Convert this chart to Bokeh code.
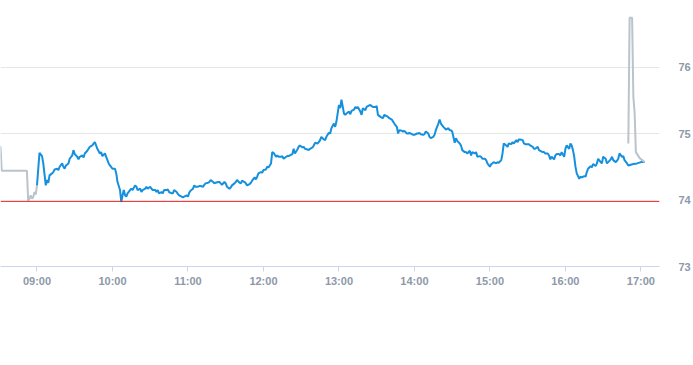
from bokeh.plotting import figure
from bokeh.models import Range1d, FixedTicker, Span
from bokeh.embed import file_html
from bokeh.resources import INLINE

# ---- data ----
pre_time = ["08:20", "08:31", "08:32", "08:52", "08:53", "08:54", "08:55", "08:56",
            "08:57", "08:58", "08:59", "09:00"]
pre_price = [74.80, 74.80, 74.44, 74.44, 73.99, 74.02, 74.07, 74.02,
             74.04, 74.12, 74.08, 74.22]

main_time = [
    "09:00", "09:02", "09:04", "09:05", "09:07", "09:08", "09:09", "09:10", "09:12", "09:13",
    "09:14", "09:16", "09:17", "09:18", "09:20", "09:21", "09:22", "09:23", "09:25", "09:26",
    "09:28", "09:29", "09:30", "09:32", "09:33", "09:34", "09:36", "09:37", "09:38", "09:40",
    "09:41", "09:42", "09:44", "09:45", "09:46", "09:47", "09:48", "09:50", "09:51", "09:52",
    "09:54", "09:55", "09:57", "09:58", "10:00", "10:02", "10:03", "10:04", "10:06", "10:07",
    "10:08", "10:09", "10:10", "10:11", "10:12", "10:14", "10:15", "10:16", "10:18", "10:19",
    "10:20", "10:22", "10:23", "10:24", "10:26", "10:27", "10:28", "10:30", "10:31", "10:32",
    "10:34", "10:35", "10:36", "10:37", "10:39", "10:40", "10:41", "10:43", "10:44", "10:45",
    "10:47", "10:48", "10:49", "10:51", "10:52", "10:53", "10:55", "10:56", "10:57", "10:59",
    "11:00", "11:01", "11:02", "11:04", "11:05", "11:06", "11:08", "11:09", "11:10", "11:12",
    "11:13", "11:14", "11:16", "11:17", "11:18", "11:20", "11:21", "11:22", "11:24", "11:25",
    "11:26", "11:27", "11:29", "11:30", "11:31", "11:33", "11:34", "11:35", "11:37", "11:38",
    "11:39", "11:41", "11:42", "11:43", "11:45", "11:46", "11:47", "11:49", "11:50", "11:51",
    "11:53", "11:54", "11:55", "11:56", "11:58", "11:59", "12:00", "12:02", "12:03", "12:04",
    "12:06", "12:07", "12:08", "12:10", "12:11", "12:12", "12:14", "12:15", "12:16", "12:18",
    "12:19", "12:20", "12:21", "12:23", "12:24", "12:25", "12:27", "12:28", "12:29", "12:31",
    "12:32", "12:33", "12:35", "12:36", "12:37", "12:39", "12:40", "12:41", "12:43", "12:44",
    "12:45", "12:46", "12:48", "12:49", "12:50", "12:52", "12:53", "12:54", "12:56", "12:57",
    "12:58", "13:00", "13:01", "13:02", "13:04", "13:05", "13:06", "13:08", "13:09", "13:10",
    "13:12", "13:13", "13:14", "13:15", "13:17", "13:18", "13:19", "13:21", "13:22", "13:23",
    "13:25", "13:26", "13:27", "13:29", "13:30", "13:31", "13:33", "13:34", "13:35", "13:36",
    "13:38", "13:39", "13:40", "13:42", "13:43", "13:44", "13:46", "13:47", "13:48", "13:50",
    "13:51", "13:52", "13:54", "13:55", "13:56", "13:58", "13:59", "14:00", "14:02", "14:03",
    "14:04", "14:05", "14:07", "14:08", "14:09", "14:11", "14:12", "14:13", "14:15", "14:16",
    "14:17", "14:19", "14:20", "14:21", "14:23", "14:24", "14:25", "14:27", "14:28", "14:29",
    "14:30", "14:32", "14:33", "14:34", "14:36", "14:37", "14:38", "14:40", "14:41", "14:42",
    "14:44", "14:45", "14:46", "14:48", "14:49", "14:50", "14:52", "14:53", "14:54", "14:56",
    "14:57", "14:58", "15:00", "15:01", "15:02", "15:03", "15:05", "15:06", "15:07", "15:09",
    "15:10", "15:11", "15:13", "15:14", "15:15", "15:17", "15:18", "15:19", "15:21", "15:22",
    "15:23", "15:24", "15:26", "15:27", "15:28", "15:30", "15:31", "15:32", "15:34", "15:35",
    "15:36", "15:38", "15:39", "15:40", "15:42", "15:43", "15:44", "15:46", "15:47", "15:48",
    "15:49", "15:51", "15:52", "15:53", "15:55", "15:56", "15:57", "15:59", "16:00", "16:01",
    "16:03", "16:04", "16:05", "16:06", "16:07", "16:08", "16:09", "16:11", "16:12", "16:13",
    "16:15", "16:16", "16:17", "16:18", "16:20", "16:21", "16:22", "16:24", "16:25", "16:26",
    "16:28", "16:29", "16:30", "16:32", "16:33", "16:34", "16:36", "16:37", "16:38", "16:40",
    "16:41", "16:42", "16:43", "16:45", "16:46", "16:47", "16:49", "16:50", "16:54", "16:57",
    "17:00", "17:03",
]
main_price = [
    74.22, 74.71, 74.66, 74.55, 74.22, 74.30, 74.26, 74.37, 74.40, 74.42,
    74.46, 74.47, 74.45, 74.50, 74.55, 74.50, 74.47, 74.52, 74.55, 74.62,
    74.67, 74.75, 74.69, 74.65, 74.61, 74.65, 74.67, 74.64, 74.70, 74.74,
    74.77, 74.80, 74.82, 74.85, 74.87, 74.82, 74.77, 74.70, 74.72, 74.66,
    74.70, 74.65, 74.55, 74.52, 74.47, 74.47, 74.40, 74.27, 74.15, 73.97,
    74.07, 74.15, 74.07, 74.05, 74.10, 74.15, 74.17, 74.15, 74.22, 74.20,
    74.15, 74.17, 74.12, 74.15, 74.17, 74.20, 74.17, 74.20, 74.17, 74.15,
    74.15, 74.12, 74.15, 74.10, 74.12, 74.10, 74.15, 74.15, 74.16, 74.12,
    74.10, 74.10, 74.15, 74.12, 74.09, 74.07, 74.05, 74.04, 74.05, 74.07,
    74.05, 74.11, 74.14, 74.17, 74.22, 74.20, 74.20, 74.21, 74.21, 74.20,
    74.23, 74.25, 74.26, 74.27, 74.30, 74.27, 74.25, 74.26, 74.27, 74.27,
    74.25, 74.23, 74.27, 74.25, 74.20, 74.17, 74.19, 74.22, 74.25, 74.27,
    74.30, 74.26, 74.25, 74.29, 74.27, 74.25, 74.22, 74.24, 74.26, 74.29,
    74.34, 74.31, 74.35, 74.40, 74.42, 74.41, 74.45, 74.46, 74.50, 74.49,
    74.55, 74.72, 74.71, 74.65, 74.67, 74.65, 74.65, 74.66, 74.62, 74.65,
    74.66, 74.66, 74.67, 74.69, 74.77, 74.70, 74.76, 74.80, 74.82, 74.79,
    74.80, 74.77, 74.76, 74.75, 74.77, 74.79, 74.82, 74.86, 74.85, 74.87,
    74.90, 74.95, 74.91, 74.90, 74.95, 75.01, 75.00, 75.08, 75.15, 75.10,
    75.18, 75.43, 75.38, 75.51, 75.30, 75.28, 75.30, 75.33, 75.29, 75.34,
    75.36, 75.40, 75.38, 75.40, 75.33, 75.28, 75.38, 75.35, 75.40, 75.41,
    75.43, 75.41, 75.40, 75.40, 75.41, 75.28, 75.25, 75.24, 75.23, 75.28,
    75.26, 75.25, 75.23, 75.21, 75.18, 75.15, 75.10, 75.00, 75.05, 75.04,
    75.03, 75.04, 75.00, 75.00, 75.01, 74.99, 74.98, 74.98, 75.00, 75.00,
    75.01, 74.99, 74.98, 74.99, 75.03, 75.00, 74.95, 74.93, 74.95, 74.98,
    75.05, 75.15, 75.21, 75.15, 75.10, 75.08, 75.06, 75.08, 75.05, 75.05,
    75.03, 74.86, 74.93, 74.89, 74.85, 74.82, 74.75, 74.72, 74.72, 74.70,
    74.74, 74.67, 74.72, 74.70, 74.72, 74.65, 74.66, 74.65, 74.62, 74.62,
    74.60, 74.55, 74.50, 74.54, 74.55, 74.57, 74.55, 74.57, 74.56, 74.60,
    74.70, 74.85, 74.82, 74.80, 74.85, 74.84, 74.87, 74.85, 74.90, 74.87,
    74.91, 74.91, 74.90, 74.85, 74.84, 74.84, 74.84, 74.82, 74.80, 74.77,
    74.77, 74.80, 74.75, 74.74, 74.72, 74.72, 74.70, 74.70, 74.67, 74.61,
    74.65, 74.61, 74.67, 74.69, 74.69, 74.67, 74.72, 74.65, 74.77, 74.82,
    74.77, 74.85, 74.82, 74.75, 74.65, 74.50, 74.40, 74.32, 74.35, 74.34,
    74.36, 74.35, 74.42, 74.47, 74.51, 74.49, 74.54, 74.51, 74.55, 74.62,
    74.57, 74.55, 74.65, 74.62, 74.55, 74.57, 74.61, 74.65, 74.60, 74.57,
    74.59, 74.62, 74.70, 74.65, 74.66, 74.60, 74.55, 74.52, 74.54, 74.55,
    74.57, 74.57,
]

post_time = ["16:50", "16:51", "16:53", "16:54", "16:55", "16:56", "16:59", "17:03"]
post_price = [74.85, 76.74, 76.74, 75.55, 75.31, 74.72, 74.63, 74.57]

prev_close = 73.98

tick_hours = [9, 10, 11, 12, 13, 14, 15, 16, 17]
tick_labels = ["09:00", "10:00", "11:00", "12:00", "13:00", "14:00", "15:00", "16:00", "17:00"]
price_ticks = [73, 74, 75, 76]
grid_ticks = [75, 76]


def to_hours(t):
    h, m = t.split(":")
    return int(h) + int(m) / 60.0


pre_x = [to_hours(t) for t in pre_time]
main_x = [to_hours(t) for t in main_time]
post_x = [to_hours(t) for t in post_time]

p = figure(width=693, height=365, output_backend="svg", toolbar_location=None,
           x_range=Range1d(8.5168, 17.2462), y_range=Range1d(73, 77.0),
           y_axis_location="right",
           min_border_left=0, min_border_top=0, min_border_right=30, min_border_bottom=99)
p.outline_line_color = None
p.background_fill_color = "white"
p.border_fill_color = "white"

p.xgrid.grid_line_color = None
p.ygrid.ticker = FixedTicker(ticks=grid_ticks)
p.ygrid.grid_line_color = "#e6e6e6"
p.ygrid.grid_line_width = 1

lbl_color = "#8d99a9"
p.xaxis.ticker = FixedTicker(ticks=tick_hours)
p.xaxis.major_label_overrides = {h: l for h, l in zip(tick_hours, tick_labels)}
p.xaxis.axis_line_color = "#ccd6eb"
p.xaxis.major_tick_line_color = "#ccd6eb"
p.xaxis.major_tick_in = 0
p.xaxis.major_tick_out = 5
p.xaxis.minor_tick_line_color = None
p.xaxis.major_label_standoff = 3

p.yaxis.ticker = FixedTicker(ticks=price_ticks)
p.yaxis.axis_line_color = None
p.yaxis.major_tick_line_color = None
p.yaxis.minor_tick_line_color = None
p.yaxis.major_tick_in = 0
p.yaxis.major_tick_out = 0
p.yaxis.major_label_standoff = 19

for ax in (p.xaxis, p.yaxis):
    ax.major_label_text_font = "Liberation Sans"
    ax.major_label_text_font_size = "11px"
    ax.major_label_text_font_style = "bold"
    ax.major_label_text_color = lbl_color

p.add_layout(Span(location=prev_close, dimension="width", line_color="#e01e1e",
                  line_width=1, level="glyph"))

p.line(pre_x, pre_price, line_color="#b9c4cc", line_width=2)
p.line(main_x, main_price, line_color="#1590de", line_width=2)
p.line(post_x, post_price, line_color="#b9c4cc", line_width=2)

open("out.html", "w").write(file_html(p, INLINE))
